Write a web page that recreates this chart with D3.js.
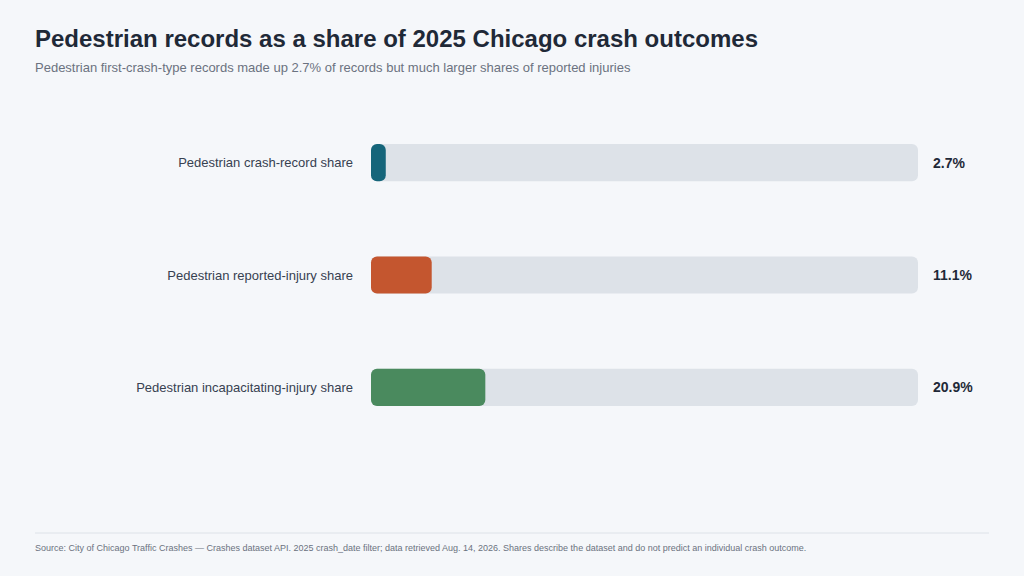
<!DOCTYPE html>
<html><head><meta charset="utf-8">
<script src="https://cdn.jsdelivr.net/npm/d3@7"></script>
<style>body{margin:0;background:#f5f7fa}svg{display:block;font-family:"Liberation Sans",Arial,sans-serif}</style>
</head><body>
<script>
const categories = ["Pedestrian crash-record share", "Pedestrian reported-injury share", "Pedestrian incapacitating-injury share"];
const shares = [2.7, 11.1, 20.9];
const colors = ["#15657a", "#c4562f", "#4a8a5e"];
const valueLabels = ["2.7%", "11.1%", "20.9%"];

const width = 1024, height = 576;
const svg = d3.select('body').append('svg').attr('width', width).attr('height', height).style('background', '#f5f7fa');

svg.append('text').attr('x', 35).attr('y', 47).attr('fill', '#1f2937')
  .style('font-size', '24px').style('font-weight', 'bold')
  .text('Pedestrian records as a share of 2025 Chicago crash outcomes');
svg.append('text').attr('x', 35).attr('y', 72).attr('fill', '#6b7280')
  .style('font-size', '13px')
  .text('Pedestrian first-crash-type records made up 2.7% of records but much larger shares of reported injuries');

const x = d3.scaleLinear().domain([0, 100]).range([371, 918]);
const y = d3.scaleBand().domain(categories).range([107, 443]).paddingInner(0.67).paddingOuter(0.33);

const rows = svg.selectAll('.row').data(categories).enter().append('g')
  .attr('transform', d => `translate(0,${y(d)})`);

rows.append('rect').attr('x', x(0)).attr('width', x(100) - x(0))
  .attr('height', y.bandwidth()).attr('rx', 6).attr('fill', '#dde2e8');
rows.append('rect').attr('x', x(0)).attr('width', (d, i) => x(shares[i]) - x(0))
  .attr('height', y.bandwidth()).attr('rx', 6).attr('fill', (d, i) => colors[i]);
rows.append('text').attr('x', 353).attr('y', y.bandwidth() / 2).attr('dy', '0.35em')
  .attr('text-anchor', 'end').attr('fill', '#374151').style('font-size', '13px').text(d => d);
rows.append('text').attr('x', 933).attr('y', y.bandwidth() / 2).attr('dy', '0.35em')
  .attr('fill', '#1f2937').style('font-size', '14px').style('font-weight', 'bold')
  .text((d, i) => valueLabels[i]);

svg.append('line').attr('x1', 35).attr('x2', 989).attr('y1', 533).attr('y2', 533)
  .attr('stroke', '#dde2e8').attr('stroke-width', 1);
svg.append('text').attr('x', 35).attr('y', 551).attr('fill', '#6b7280').style('font-size', '9px')
  .text('Source: City of Chicago Traffic Crashes \u2014 Crashes dataset API. 2025 crash_date filter; data retrieved Aug. 14, 2026. Shares describe the dataset and do not predict an individual crash outcome.');
</script>
</body></html>
